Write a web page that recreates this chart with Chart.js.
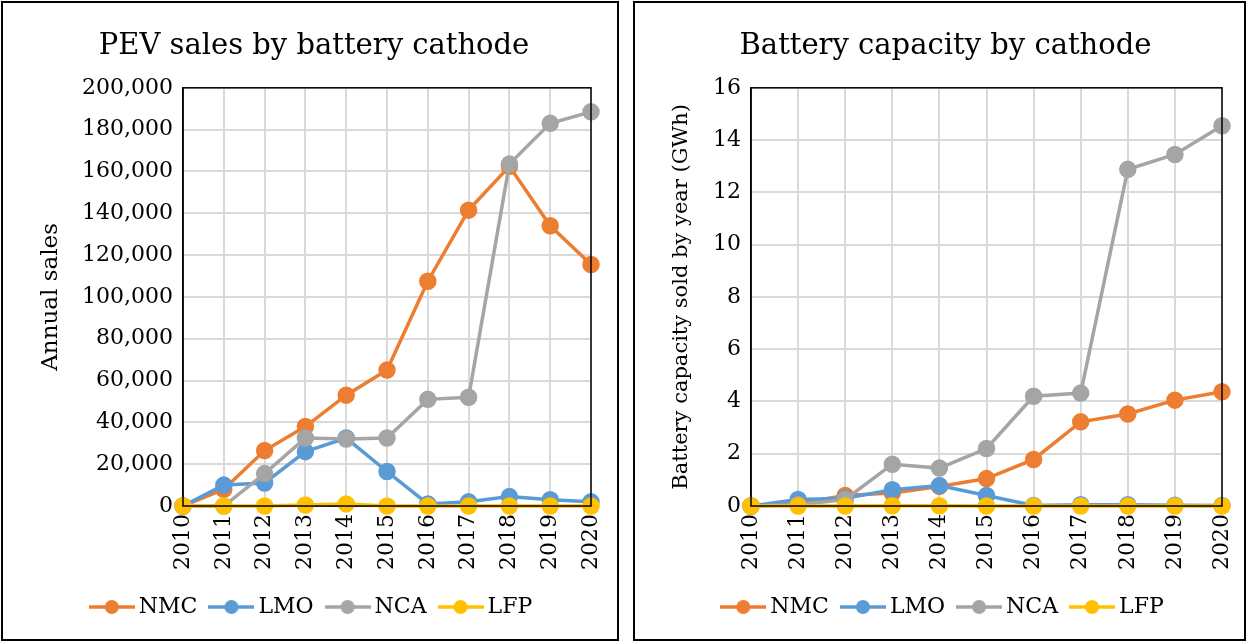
<!DOCTYPE html>
<html>
<head>
<meta charset="utf-8">
<script src="https://cdn.jsdelivr.net/npm/chart.js@4/dist/chart.umd.min.js"></script>
<style>
  body { margin: 0; background: #fff; }
  .box { position: absolute; top: 1px; height: 636px; border: 2px solid #000; background: #fff; }
  #boxA { left: 1px; width: 614px; }
  #boxB { left: 633px; width: 609px; }
  canvas { display: block; }
</style>
</head>
<body>
<div class="box" id="boxA"><canvas id="sales"></canvas></div>
<div class="box" id="boxB"><canvas id="capacity"></canvas></div>
<script>
const years = ['2010', '2011', '2012', '2013', '2014', '2015', '2016', '2017', '2018', '2019', '2020']
const seriesNames = ['NMC', 'LMO', 'NCA', 'LFP']
const seriesColors = ['#ED7D31', '#5B9BD5', '#A5A5A5', '#FFC000']

// PEV annual sales
const salesNMC = [0, 8000, 26500, 38000, 53000, 65000, 107500, 141500, 162500, 134000, 115500]
const salesLMO = [0, 10000, 11000, 26000, 32500, 16500, 1000, 2000, 4500, 3000, 2000]
const salesNCA = [0, 0, 15500, 32500, 32000, 32500, 51000, 52000, 163500, 183000, 188500]
const salesLFP = [0, 0, 0, 500, 1000, 0, 0, 0, 0, 0, 0]

// battery capacity, GWh
const capNMC = [0, 0.1, 0.4, 0.5, 0.75, 1.05, 1.78, 3.22, 3.52, 4.05, 4.37]
const capLMO = [0, 0.25, 0.3, 0.62, 0.78, 0.4, 0.02, 0.05, 0.05, 0.03, 0.02]
const capNCA = [0, 0.05, 0.25, 1.6, 1.45, 2.2, 4.2, 4.32, 12.88, 13.45, 14.55]
const capLFP = [0, 0, 0, 0.01, 0.01, 0, 0, 0, 0, 0, 0]

const FONT = '"DejaVu Serif", serif'

// legend marker: short line with a dot in the middle
function legendIcon(color) {
  const c = document.createElement('canvas')
  c.width = 46
  c.height = 16
  const g = c.getContext('2d')
  g.strokeStyle = color
  g.lineWidth = 3.5
  g.beginPath()
  g.moveTo(0, 8)
  g.lineTo(46, 8)
  g.stroke()
  g.fillStyle = color
  g.beginPath()
  g.arc(23, 8, 7, 0, Math.PI * 2)
  g.fill()
  return c
}

const plotFrame = {
  id: 'plotFrame',
  afterDraw(chart) {
    const a = chart.chartArea
    const ctx = chart.ctx
    ctx.save()
    ctx.strokeStyle = '#000'
    ctx.lineWidth = 1.5
    ctx.strokeRect(a.left, a.top, a.right - a.left, a.bottom - a.top)
    ctx.restore()
  }
}

function makeChart(id, w, title, yTitle, yTitleSize, data, yMax, yStep, yWidth, pad, fmt) {
  const canvas = document.getElementById(id)
  canvas.width = w
  canvas.height = 636
  return new Chart(canvas, {
    type: 'line',
    data: {
      labels: years,
      datasets: data.map((d, i) => ({
        label: seriesNames[i],
        data: d,
        order: 4 - i,
        borderColor: seriesColors[i],
        backgroundColor: seriesColors[i],
        pointBackgroundColor: seriesColors[i],
        pointBorderColor: seriesColors[i],
        borderWidth: 3.5,
        pointRadius: 7,
        pointStyle: 'circle',
        tension: 0,
        clip: 10
      }))
    },
    options: {
      responsive: false,
      animation: false,
      layout: { padding: pad },
      plugins: {
        title: {
          display: true,
          text: title,
          color: '#000',
          font: { family: FONT, size: 29, weight: 'normal' },
          padding: { top: 0, bottom: 24 }
        },
        legend: {
          position: 'bottom',
          labels: {
            usePointStyle: true,
            pointStyleWidth: 32,
            color: '#000',
            font: { family: FONT, size: 22 },
            padding: 18,
            generateLabels: (chart) => chart.data.datasets.map((ds, i) => ({
              text: ds.label,
              fillStyle: ds.borderColor,
              strokeStyle: ds.borderColor,
              pointStyle: legendIcon(ds.borderColor),
              datasetIndex: i,
              fontColor: '#000'
            }))
          }
        },
        tooltip: { enabled: false }
      },
      scales: {
        x: {
          offset: false,
          afterFit: (s) => { s.paddingLeft = 0; s.paddingRight = 0 },
          grid: { color: '#D9D9D9', lineWidth: 2, drawTicks: false },
          border: { color: '#000', width: 1.5 },
          ticks: {
            color: '#000',
            font: { family: FONT, size: 22 },
            minRotation: 90,
            maxRotation: 90,
            padding: 8
          }
        },
        y: {
          min: 0,
          max: yMax,
          afterFit: (s) => { s.width = yWidth },
          grid: { color: '#D9D9D9', lineWidth: 2, drawTicks: false },
          border: { color: '#000', width: 1.5 },
          title: {
            display: true,
            text: yTitle,
            color: '#000',
            font: { family: FONT, size: yTitleSize },
            padding: 0
          },
          ticks: {
            stepSize: yStep,
            color: '#000',
            font: { family: FONT, size: 22 },
            padding: 10,
            callback: fmt
          }
        }
      }
    },
    plugins: [plotFrame]
  })
}

makeChart('sales', 614, 'PEV sales by battery cathode', 'Annual sales', 23,
  [salesNMC, salesLMO, salesNCA, salesLFP], 200000, 20000, 146,
  { left: 34, right: 26, top: 26, bottom: 11 },
  (v) => v.toLocaleString('en-US'))

makeChart('capacity', 609, 'Battery capacity by cathode', 'Battery capacity sold by year (GWh)', 21,
  [capNMC, capLMO, capNCA, capLFP], 16, 2, 82,
  { left: 34, right: 22, top: 26, bottom: 11 },
  (v) => String(v))
</script>
</body>
</html>
